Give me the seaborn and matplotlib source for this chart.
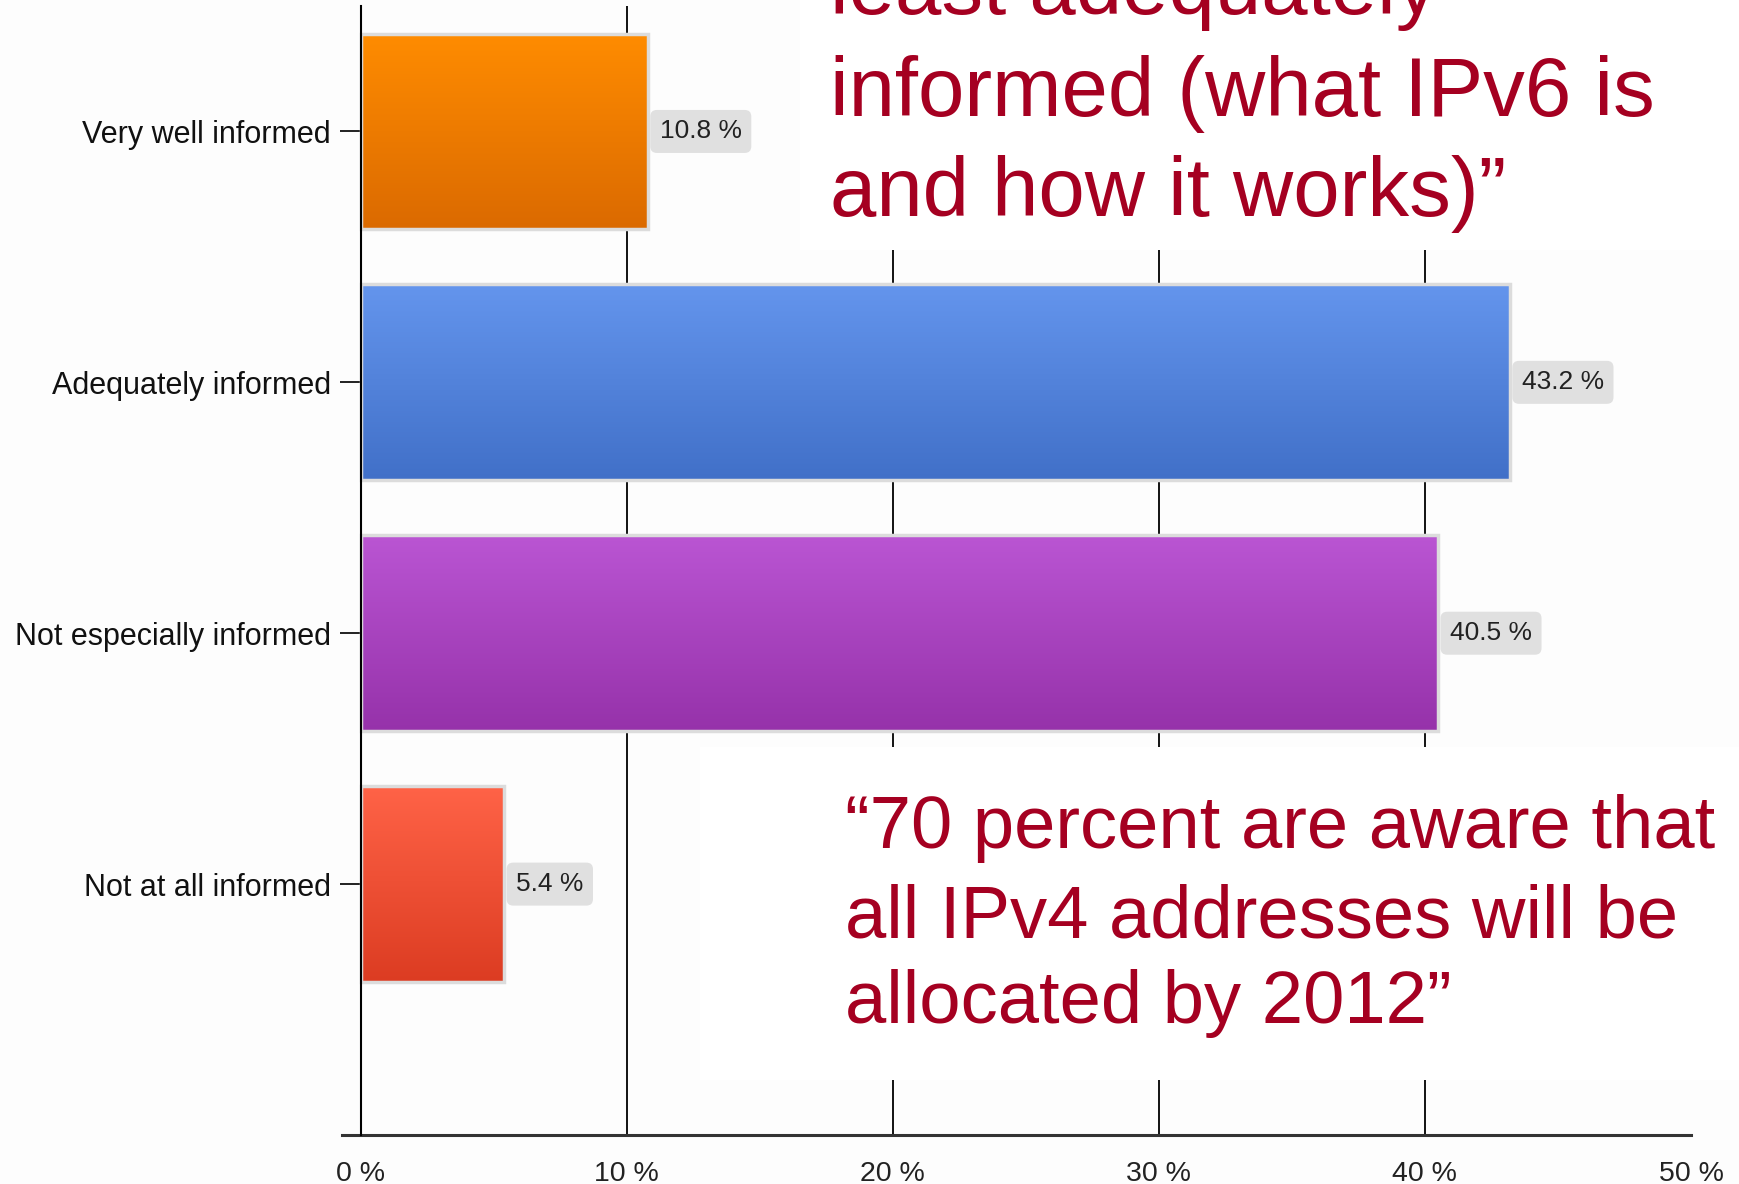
import numpy as np
import pandas as pd
import matplotlib
matplotlib.use("Agg")
import matplotlib.pyplot as plt
import matplotlib.patches as mpatches
import seaborn as sns


categories = ["Very well informed", "Adequately informed",
              "Not especially informed", "Not at all informed"]
values = [10.8, 43.2, 40.5, 5.4]
x_ticks = [0, 10, 20, 30, 40, 50]
x_tick_labels = ["0 %", "10 %", "20 %", "30 %", "40 %", "50 %"]

top_colors = ["#ff8c00", "#6495ed", "#ba55d3", "#ff6347"]
bottom_colors = ["#db6a00", "#4170c8", "#9632aa", "#dc3c22"]

quote_top = ["least adequately", "informed (what IPv6 is", "and how it works)\u201d"]
quote_bottom = ["\u201c70 percent are aware that", "all IPv4 addresses will be",
                "allocated by 2012\u201d"]

sns.set_style("white")
plt.rcParams["font.family"] = ["Liberation Sans", "DejaVu Sans"]

W, H = 1739, 1184
fig = plt.figure(figsize=(W / 100, H / 100), dpi=100, facecolor="#fdfdfd")
ax = fig.add_axes([342 / W, 49 / H, 1349 / W, 1129 / H])
ax.set_facecolor("#fdfdfd")

df = pd.DataFrame({"category": categories, "value": values})
sns.barplot(data=df, x="value", y="category", hue="category", orient="h",
            palette=top_colors, width=0.78, legend=False, ax=ax)

# gradient fill clipped to each bar
for patch, c_top, c_bot in zip(ax.patches, top_colors, bottom_colors):
    x0, y0 = patch.get_x(), patch.get_y()
    w, h = patch.get_width(), patch.get_height()
    t = np.linspace(0, 1, 256)[:, None, None]
    a = np.array(matplotlib.colors.to_rgb(c_top))
    b = np.array(matplotlib.colors.to_rgb(c_bot))
    img = (1 - t) * a + t * b
    im = ax.imshow(img, extent=[x0, x0 + w, y0 + h, y0], origin="upper",
                   aspect="auto", interpolation="bicubic", zorder=2.5)
    im.set_clip_path(patch)
    patch.set_facecolor("none")
    patch.set_edgecolor("#dcdcdc")
    patch.set_linewidth(2.5)
    patch.set_zorder(3)

for i, v in enumerate(values):
    ax.annotate(f"{v} %", xy=(v, i), xytext=(8.5, 0), textcoords="offset points",
                ha="left", va="center", fontsize=19, color="#222222", zorder=5,
                bbox=dict(boxstyle="round,pad=0.36,rounding_size=0.25",
                          fc="#e0e0e0", ec="none"))

ax.set_xlim(-0.7, 50)
ax.set_ylim(4.0, -0.5)
ax.set_xlabel("")
ax.set_ylabel("")

ax.set_xticks(x_ticks)
ax.set_xticklabels(x_tick_labels)
ax.set_xticks(x_ticks, minor=True)
ax.xaxis.remove_overlapping_locs = False
ax.tick_params(axis="x", which="major", direction="in", length=39, width=1.3,
               color="black", pad=19, labelsize=20.5, labelcolor="#222222")
ax.tick_params(axis="x", which="minor", direction="out", length=11, width=1.3,
               color="black")
ax.tick_params(axis="y", direction="out", length=15, width=1.4, color="#222222",
               pad=6.5, labelsize=22, labelcolor="#111111", left=True)

ax.set_axisbelow(True)
ax.grid(axis="x", color="black", linewidth=1.3)
ax.grid(axis="y", visible=False)
ax.xaxis.get_gridlines()[-1].set_visible(False)

for s in ["top", "right"]:
    ax.spines[s].set_visible(False)
ax.spines["left"].set_position(("data", 0))
ax.spines["left"].set_color("black")
ax.spines["left"].set_linewidth(1.5)
ax.spines["left"].set_zorder(4)
ax.spines["bottom"].set_color("#333333")
ax.spines["bottom"].set_linewidth(2.2)

# white panels behind the quotes hide the gridlines
for (px, py, pw, ph) in [(800, 0, 939, 250), (700, 747, 1039, 333)]:
    ax.add_patch(mpatches.Rectangle((px / W, 1 - (py + ph) / H), pw / W, ph / H,
                                    transform=fig.transFigure, fc="white",
                                    ec="none", zorder=1, clip_on=False))

red = "#a50021"
for line, base in zip(quote_top, [14, 116, 216]):
    fig.text(830 / W, 1 - base / H, line, fontsize=60, color=red,
             ha="left", va="baseline")
for line, base in zip(quote_bottom, [848, 937, 1023]):
    fig.text(845 / W, 1 - base / H, line, fontsize=53.5, color=red,
             ha="left", va="baseline")

fig.savefig("out.png", dpi=100, facecolor=fig.get_facecolor())
